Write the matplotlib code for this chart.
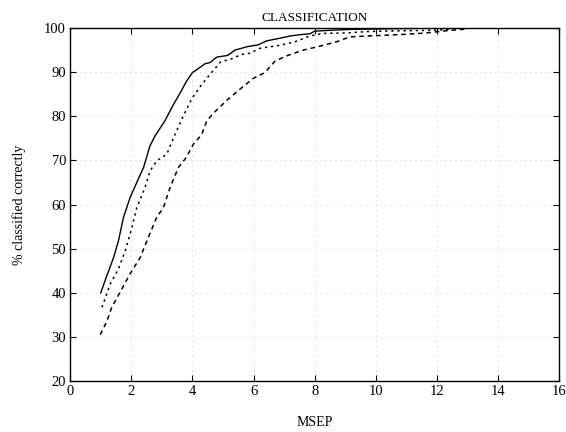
import numpy as np
import matplotlib
matplotlib.use("Agg")
import matplotlib.pyplot as plt

plt.rcParams['font.family'] = ['Liberation Serif', 'DejaVu Serif']

# solid curve
msep_a = [1.0, 1.18, 1.42, 1.58, 1.74, 1.96, 2.23, 2.4, 2.61, 2.78, 3.1, 3.38, 3.59,
          3.81, 4.0, 4.41, 4.58, 4.79, 5.15, 5.39, 5.8, 6.15, 6.43, 6.86, 7.19, 7.52,
          7.84, 8.0, 8.5, 9.2, 10.0, 11.0, 12.0, 13.0, 14.0, 15.0]
pct_a = [40.0, 43.5, 48.0, 51.8, 57.0, 61.6, 65.8, 68.4, 73.3, 75.6, 79.0, 82.7, 85.2,
         88.0, 89.9, 91.9, 92.2, 93.4, 93.8, 95.0, 95.8, 96.2, 97.1, 97.7, 98.2, 98.5,
         98.7, 99.3, 99.5, 99.7, 99.8, 99.9, 100.0, 100.0, 100.0, 100.0]

# dotted curve
msep_b = [1.04, 1.31, 1.58, 1.8, 2.02, 2.18, 2.45, 2.61, 2.83, 3.16, 3.43, 3.7, 3.98,
          4.27, 4.62, 4.93, 5.23, 5.6, 5.88, 6.2, 6.86, 7.35, 7.84, 8.28, 9.04, 9.7,
          10.1, 11.0, 11.8, 12.5]
pct_b = [36.7, 42.0, 45.4, 49.5, 54.8, 59.3, 63.9, 67.6, 69.9, 71.4, 75.9, 80.1, 84.0,
         86.9, 89.9, 92.4, 92.9, 94.0, 94.3, 95.4, 96.1, 96.9, 98.2, 98.8, 98.9, 99.2,
         99.3, 99.4, 99.5, 99.7]

# dashed curve
msep_c = [0.98, 1.2, 1.36, 1.63, 1.96, 2.29, 2.56, 2.83, 3.05, 3.27, 3.54, 3.81, 4.03,
          4.3, 4.47, 4.7, 5.12, 5.58, 5.99, 6.37, 6.7, 7.08, 7.62, 8.17, 8.72, 9.15,
          9.7, 10.35, 11.0, 11.66, 12.3, 13.0]
pct_c = [30.5, 33.5, 36.7, 40.1, 44.3, 48.0, 52.6, 57.1, 59.3, 63.9, 68.4, 70.8, 73.7,
         75.8, 79.0, 80.8, 83.6, 86.3, 88.6, 89.9, 92.5, 93.7, 95.0, 95.9, 96.9, 98.0,
         98.2, 98.4, 98.6, 98.9, 99.4, 99.8]

fig = plt.figure(figsize=(5.66, 4.32), dpi=100)
ax = fig.add_axes([0.124, 0.118, 0.864, 0.817])

ax.plot(msep_a, pct_a, color='black', linestyle='-', linewidth=1.0)
ax.plot(msep_b, pct_b, color='black', linestyle=(0, (1.5, 2.5)), linewidth=1.1)
ax.plot(msep_c, pct_c, color='black', linestyle=(0, (3, 2.5)), linewidth=1.1)

ax.set_xlim(0, 16)
ax.set_ylim(20, 100)
ax.set_xticks(np.arange(0, 17, 2))
ax.set_yticks(np.arange(20, 101, 10))
ax.grid(True, linestyle=(0, (1, 5)), color='#b0b0b0', linewidth=0.6)
ax.tick_params(direction='in', length=4, labelsize=10.5, top=True, right=True, pad=3)
for s in ax.spines.values():
    s.set_linewidth(1.0)

ax.set_title('CLASSIFICATION', fontsize=9.5, pad=5)
ax.set_xlabel('MSEP', fontsize=10, labelpad=13)
ax.set_ylabel('% classified correctly', fontsize=10, labelpad=13)

fig.savefig('out.png', dpi=100)
